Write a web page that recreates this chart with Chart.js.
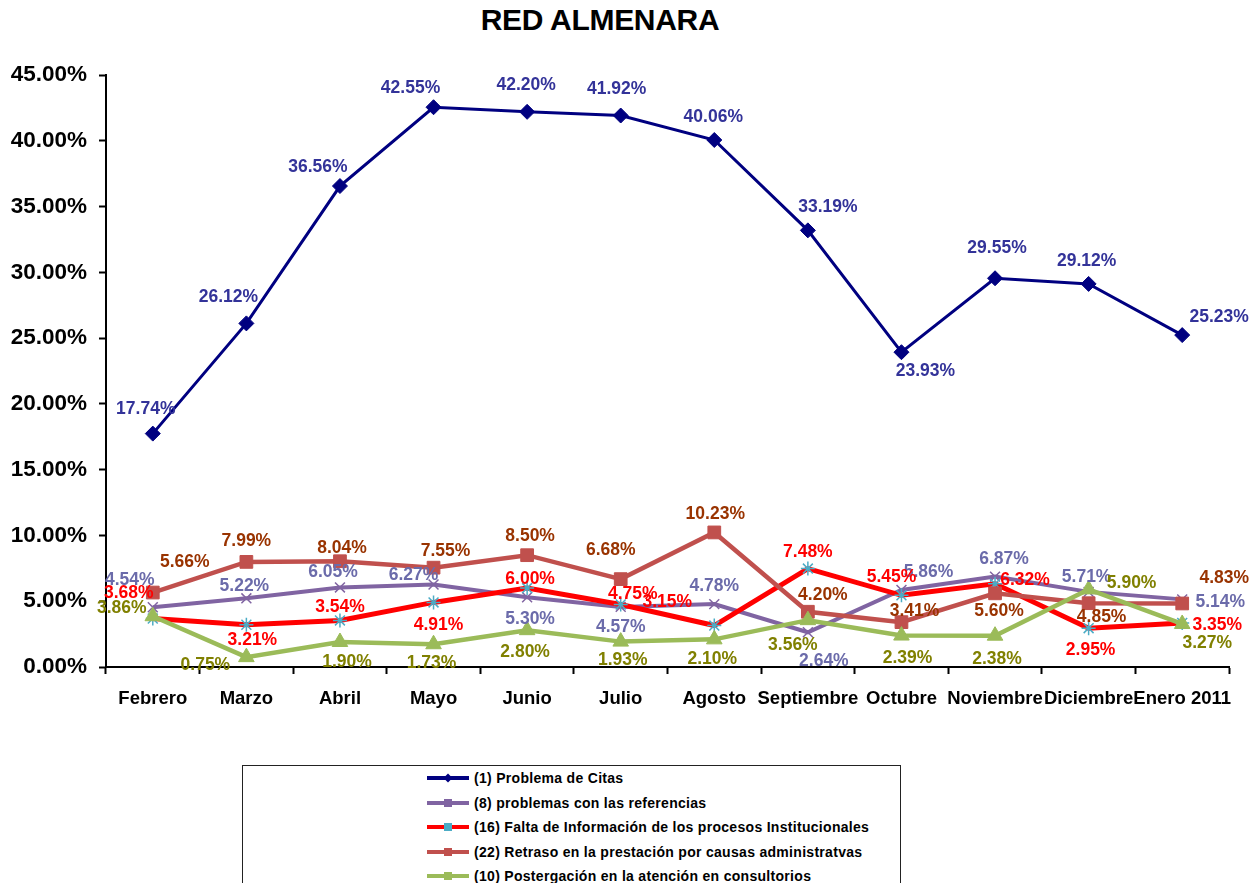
<!DOCTYPE html>
<html>
<head>
<meta charset="utf-8">
<script src="https://cdn.jsdelivr.net/npm/chart.js@4.4.0/dist/chart.umd.min.js"></script>
<style>
  html, body { margin: 0; padding: 0; background: #fff; }
  body { width: 1258px; height: 883px; position: relative; overflow: hidden; font-family: "Liberation Sans", Arial, sans-serif; }
  #title { position: absolute; left: 400px; width: 400px; top: 3px; text-align: center; font-weight: bold; font-size: 30px; color: #000; letter-spacing: -0.3px; }
  #wrap { position: absolute; left: 0; top: 0; width: 1258px; height: 883px; }
  #legend { position: absolute; left: 242px; top: 765px; width: 659px; height: 140px; border: 1.5px solid #222; box-sizing: border-box; background: #fff; }
  .item { position: absolute; left: 184px; height: 20px; display: flex; align-items: center; font-weight: bold; font-size: 14px; letter-spacing: 0.3px; color: #000; white-space: nowrap; }
  .sample { position: relative; width: 42px; height: 20px; margin-right: 5px; }
  .sample .ln { position: absolute; left: 0; top: 8px; width: 42px; height: 4px; }
  .sample .mk { position: absolute; left: 17px; top: 6px; width: 8px; height: 8px; }
</style>
</head>
<body>
<div id="title">RED ALMENARA</div>
<div id="wrap"><canvas id="c" width="1258" height="883"></canvas></div>
<div id="legend"></div>
<script>
// ---- data ----
const categories = ["Febrero", "Marzo", "Abril", "Mayo", "Junio", "Julio", "Agosto", "Septiembre", "Octubre", "Noviembre", "Diciembre", "Enero 2011"];
const seriesNames = [
  "(1) Problema de Citas",
  "(8) problemas con las referencias",
  "(16) Falta de Información de los procesos Institucionales",
  "(22) Retraso en la prestación por causas administratvas",
  "(10) Postergación en la atención en consultorios"
];
const citas        = [17.74, 26.12, 36.56, 42.55, 42.20, 41.92, 40.06, 33.19, 23.93, 29.55, 29.12, 25.23];
const referencias  = [4.54, 5.22, 6.05, 6.27, 5.30, 4.57, 4.78, 2.64, 5.86, 6.87, 5.71, 5.14];
const faltaInfo    = [3.68, 3.21, 3.54, 4.91, 6.00, 4.75, 3.15, 7.48, 5.45, 6.32, 2.95, 3.35];
const retraso      = [5.66, 7.99, 8.04, 7.55, 8.50, 6.68, 10.23, 4.20, 3.41, 5.60, 4.85, 4.83];
const postergacion = [3.86, 0.75, 1.90, 1.73, 2.80, 1.93, 2.10, 3.56, 2.39, 2.38, 5.90, 3.27];
const yTicks = [0, 5, 10, 15, 20, 25, 30, 35, 40, 45];

// ---- label offsets (style, px relative to point) ----
const labelOffsets = [
  [[-7,-24],[-18,-26],[-22,-19],[-23,-19],[-1,-27],[-4,-26],[-1,-23],[20,-23],[24,19],[2,-30],[-2,-23],[37,-18]],
  [[-23,-27],[-2,-12],[-7,-15],[-20,-9],[3,22],[0,20],[0,-18],[16,29],[27,-18],[9,-17],[-2,-15],[38,3]],
  [[-24,-25],[6,15],[0,-13],[5,23],[3,-9],[12,-10],[-47,-23],[0,-16],[-10,-18],[30,-4],[2,22],[35,2]],
  [[32,-30],[0,-21],[2,-13],[12,-17],[3,-19],[-10,-29],[1,-18],[15,-17],[13,-11],[4,18],[13,14],[42,-25]],
  [[-31,-8],[-41,8],[7,20],[-2,19],[-2,22],[2,19],[-2,20],[-15,25],[6,23],[2,23],[43,-6],[25,19]]
];
const labelColors = ["#333399", "#6B6BAA", "#FF0000", "#993300", "#808000"];

const styles = [
  { line: "#000080", pt: "rectRot", r: 7.5, bg: "#000080", bd: "#000080", bw: 1, lw: 3 },
  { line: "#8064A2", pt: "crossRot", r: 7, bg: "#8064A2", bd: "#8064A2", bw: 1.5, lw: 4 },
  { line: "#FF0000", pt: "star", r: 7, bg: "#4BACC6", bd: "#4BACC6", bw: 1.5, lw: 5 },
  { line: "#C0504D", pt: "rect", r: 9, bg: "#C0504D", bd: "#C0504D", bw: 1, lw: 4.5 },
  { line: "#9BBB59", pt: "triangle", r: 9, bg: "#9BBB59", bd: "#9BBB59", bw: 1, lw: 4.5 }
];
const seriesData = [citas, referencias, faltaInfo, retraso, postergacion];
const drawOrder = [5, 4, 3, 2, 1];

const datasets = seriesData.map((d, i) => ({
  label: seriesNames[i],
  data: d,
  borderColor: styles[i].line,
  backgroundColor: styles[i].bg,
  borderWidth: styles[i].lw,
  pointStyle: styles[i].pt,
  pointRadius: styles[i].r,
  pointHoverRadius: styles[i].r,
  pointBackgroundColor: styles[i].bg,
  pointBorderColor: styles[i].bd,
  pointBorderWidth: styles[i].bw,
  tension: 0,
  fill: false,
  order: drawOrder[i]
}));

const labelPlugin = {
  id: 'valueLabels',
  afterDatasetsDraw(chart) {
    const ctx = chart.ctx;
    ctx.save();
    ctx.font = 'bold 17.5px "Liberation Sans", Arial, sans-serif';
    ctx.textAlign = 'center';
    ctx.textBaseline = 'middle';
    chart.data.datasets.forEach((ds, i) => {
      const meta = chart.getDatasetMeta(i);
      ctx.fillStyle = labelColors[i];
      meta.data.forEach((pt, j) => {
        const off = labelOffsets[i][j];
        ctx.fillText(ds.data[j].toFixed(2) + '%', pt.x + off[0], pt.y + off[1]);
      });
    });
    ctx.restore();
  }
};

new Chart(document.getElementById('c'), {
  type: 'line',
  data: { labels: categories, datasets },
  options: {
    responsive: false,
    animation: false,
    layout: { padding: { top: 75, left: 0, right: 29, bottom: 156 } },
    plugins: { legend: { display: false }, title: { display: false }, tooltip: { enabled: false } },
    scales: {
      x: {
        type: 'category',
        offset: true,
        afterFit(s) { s.height = 60; },
        grid: { display: true, drawOnChartArea: false, offset: true, drawTicks: true, tickLength: 7, tickColor: '#000', tickWidth: 2 },
        border: { display: true, color: '#000', width: 2 },
        ticks: { autoSkip: false, maxRotation: 0, minRotation: 0, padding: 14, color: '#000', font: { family: '"Liberation Sans", Arial, sans-serif', size: 18.5, weight: 'bold' } }
      },
      y: {
        min: 0, max: 45,
        afterFit(s) { s.width = 106; },
        afterBuildTicks(s) { s.ticks = yTicks.map(v => ({ value: v })); },
        grid: { display: true, drawOnChartArea: false, drawTicks: true, tickLength: 7, tickColor: '#000', tickWidth: 2 },
        border: { display: true, color: '#000', width: 2 },
        ticks: { padding: 12, color: '#000', font: { family: '"Liberation Sans", Arial, sans-serif', size: 22.5, weight: 'bold' }, callback: v => Number(v).toFixed(2) + '%' }
      }
    }
  },
  plugins: [labelPlugin]
});

// ---- HTML legend ----
const legend = document.getElementById('legend');
const rowTops = [2, 27, 51, 76, 100];
seriesNames.forEach((name, i) => {
  const it = document.createElement('div');
  it.className = 'item';
  it.style.top = rowTops[i] + 'px';
  const sample = document.createElement('span');
  sample.className = 'sample';
  const ln = document.createElement('span');
  ln.className = 'ln';
  ln.style.background = styles[i].line;
  const mk = document.createElement('span');
  mk.className = 'mk';
  mk.style.background = styles[i].bg;
  if (styles[i].pt === 'rectRot') mk.style.transform = 'rotate(45deg) scale(0.8)';
  sample.appendChild(ln); sample.appendChild(mk);
  const tx = document.createElement('span');
  tx.textContent = name;
  it.appendChild(sample); it.appendChild(tx);
  legend.appendChild(it);
});
</script>
</body>
</html>
